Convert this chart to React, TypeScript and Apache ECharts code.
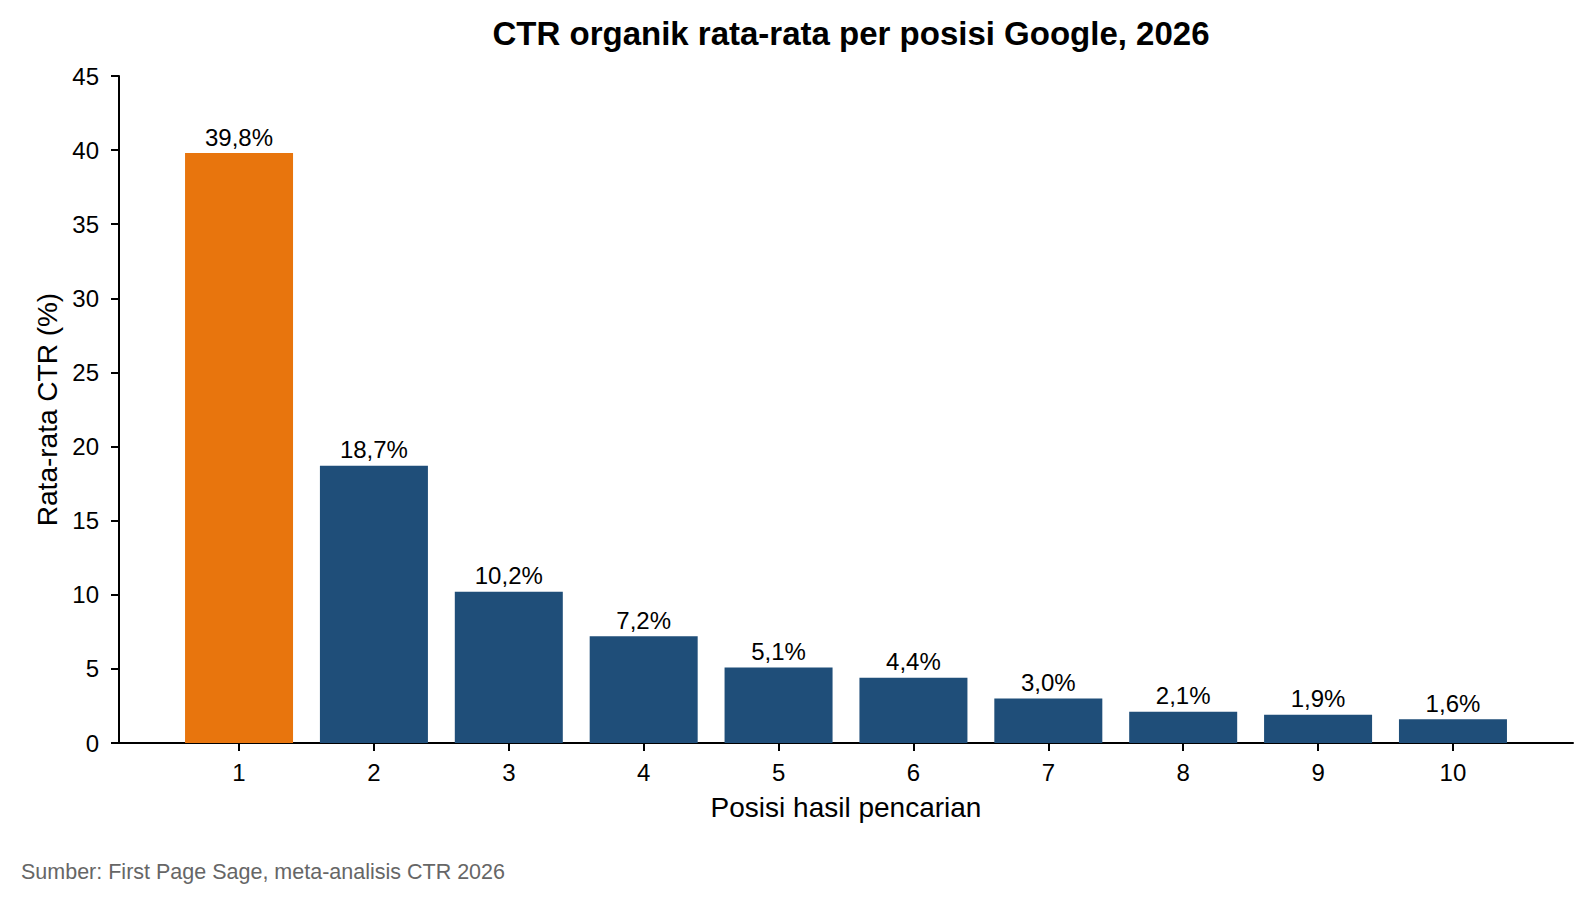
import React, { useEffect, useRef } from 'react';
import * as echarts from 'echarts';

const positions = [1, 2, 3, 4, 5, 6, 7, 8, 9, 10];
const ctrValues = [39.8, 18.7, 10.2, 7.2, 5.1, 4.4, 3.0, 2.1, 1.9, 1.6];
const yTicks = [0, 5, 10, 15, 20, 25, 30, 35, 40, 45];

const FONT = '"Liberation Sans", Arial, sans-serif';
const ORANGE = '#E8750D';
const BLUE = '#1F4E79';

const App: React.FC = () => {
  const chartRef = useRef<HTMLDivElement>(null);

  useEffect(() => {
    document.body.style.margin = '0';
    const chart = echarts.init(chartRef.current!, undefined, { renderer: 'svg' });

    const option = {
      animation: false,
      textStyle: { fontFamily: FONT },
      title: {
        text: 'CTR organik rata-rata per posisi Google, 2026',
        left: 846,
        top: 12,
        textAlign: 'center',
        textStyle: { fontFamily: FONT, fontSize: 33, fontWeight: 'bold', color: '#000' },
      },
      grid: { left: 119, right: 21, top: 76, bottom: 162 },
      xAxis: {
        type: 'value',
        min: 0.11,
        max: 10.89,
        name: 'Posisi hasil pencarian',
        nameLocation: 'middle',
        nameGap: 50,
        nameTextStyle: { fontFamily: FONT, fontSize: 28, color: '#000' },
        splitLine: { show: false },
        axisLine: { show: true, lineStyle: { color: '#000', width: 2 } },
        axisTick: {
          show: true,
          length: 8,
          lineStyle: { color: '#000', width: 2 },
          customValues: positions,
        },
        axisLabel: {
          fontFamily: FONT,
          fontSize: 24,
          color: '#000',
          margin: 17,
          customValues: positions,
        },
      },
      yAxis: {
        type: 'value',
        min: 0,
        max: 45,
        interval: 5,
        name: 'Rata-rata CTR (%)',
        nameLocation: 'middle',
        nameGap: 58,
        nameTextStyle: { fontFamily: FONT, fontSize: 28, color: '#000' },
        splitLine: { show: false },
        axisLine: { show: true, lineStyle: { color: '#000', width: 2 } },
        axisTick: { show: true, length: 8, lineStyle: { color: '#000', width: 2 } },
        axisLabel: {
          fontFamily: FONT,
          fontSize: 24,
          color: '#000',
          margin: 20,
          formatter: (v: number) => (yTicks.includes(v) ? String(v) : ''),
        },
      },
      series: [
        {
          type: 'bar',
          barWidth: 108,
          data: positions.map((p, i) => ({
            value: [p, ctrValues[i]],
            itemStyle: { color: i === 0 ? ORANGE : BLUE },
          })),
          label: {
            show: true,
            position: 'top',
            distance: 4,
            fontFamily: FONT,
            fontSize: 24,
            color: '#000',
            formatter: (p: any) => p.value[1].toFixed(1).replace('.', ',') + '%',
          },
        },
      ],
      graphic: [
        {
          type: 'text',
          left: 21,
          top: 861,
          style: {
            text: 'Sumber: First Page Sage, meta-analisis CTR 2026',
            fontFamily: FONT,
            fontSize: 21.5,
            fill: '#666666',
          },
        },
      ],
    };

    chart.setOption(option);

    return () => {
      chart.dispose();
    };
  }, []);

  return <div ref={chartRef} style={{ width: 1594, height: 905 }} />;
};

export default App;
